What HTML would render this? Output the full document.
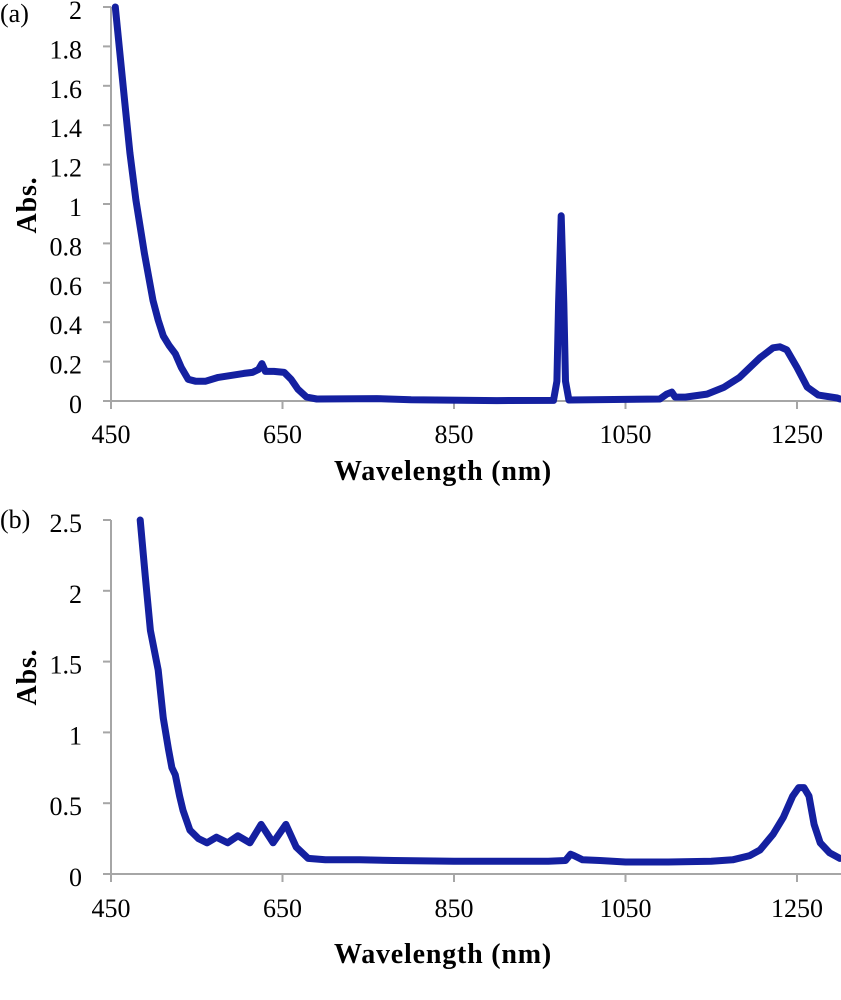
<!DOCTYPE html>
<html><head><meta charset="utf-8"><style>
html,body{margin:0;padding:0;background:#fff;}
svg{display:block;}
text{font-family:"Liberation Serif",serif;}
.t{font-size:26px;fill:#000;}
.b{font-size:28px;font-weight:bold;fill:#000;letter-spacing:0.8px;}
</style></head><body>
<svg id="s" width="841" height="1000" viewBox="0 0 841 1000" xmlns="http://www.w3.org/2000/svg">
<g stroke="#a6a6a6" stroke-width="2" fill="none">
<line x1="111" y1="7" x2="111" y2="401"/>
<line x1="111" y1="401" x2="841" y2="401"/>
<line x1="111" y1="520" x2="111" y2="874"/>
<line x1="111" y1="874" x2="841" y2="874"/>
</g>
<g id="ticks" stroke="#a6a6a6" stroke-width="2"></g>
<g id="labels"></g>
<text class="t" x="0" y="22">(a)</text>
<text class="t" x="0" y="528">(b)</text>
<text class="b" x="36" y="205" transform="rotate(-90 36 205)" text-anchor="middle">Abs.</text>
<text class="b" x="36" y="677" transform="rotate(-90 36 677)" text-anchor="middle">Abs.</text>
<text class="b" x="443" y="480" text-anchor="middle">Wavelength (nm)</text>
<text class="b" x="443" y="963" text-anchor="middle">Wavelength (nm)</text>
<path id="pa" fill="none" stroke="#1420a0" stroke-width="7" stroke-linejoin="round" stroke-linecap="round"/>
<path id="pb" fill="none" stroke="#1420a0" stroke-width="7" stroke-linejoin="round" stroke-linecap="round"/>
</svg>
<script>
var NS="http://www.w3.org/2000/svg";
function X(nm){return 111+(nm-450)*0.8575;}
function el(tag,attrs,txt,parent){var e=document.createElementNS(NS,tag);for(var k in attrs)e.setAttribute(k,attrs[k]);if(txt!=null)e.textContent=txt;document.getElementById(parent).appendChild(e);}
[450,650,850,1050,1250].forEach(function(v){
 [[401,443],[874,917]].forEach(function(p){
  el('line',{x1:X(v),y1:p[0],x2:X(v),y2:p[0]+8},null,'ticks');
  el('text',{x:X(v),y:p[1],'text-anchor':'middle','class':'t'},String(v),'labels');
 });
});
for(var i=0;i<=10;i++){var v=i*0.2,y=401-v*197;
 el('line',{x1:103,y1:y,x2:111,y2:y},null,'ticks');
 el('text',{x:82,y:y+12,'text-anchor':'end','class':'t'},(Math.round(v*10)/10).toString(),'labels');}
for(var i=0;i<=5;i++){var v=i*0.5,y=874-v*141.6;
 el('line',{x1:103,y1:y,x2:111,y2:y},null,'ticks');
 el('text',{x:82,y:y+12,'text-anchor':'end','class':'t'},(Math.round(v*10)/10).toString(),'labels');}
var A=[[455,2.0],[460,1.78],[466,1.52],[472,1.26],[479,1.02],[489,0.75],[499,0.51],[505,0.41],[511,0.33],[518,0.28],[525,0.24],[532,0.17],[540,0.11],[549,0.1],[560,0.1],[575,0.12],[590,0.13],[605,0.14],[615,0.145],[622,0.16],[626,0.19],[630,0.15],[640,0.15],[652,0.145],[660,0.11],[668,0.06],[678,0.02],[690,0.01],[760,0.012],[800,0.006],[900,0.002],[966,0.003],[970,0.1],[972,0.5],[975,0.94],[978,0.5],[980,0.1],[984,0.005],[1090,0.01],[1098,0.035],[1104,0.045],[1108,0.02],[1120,0.02],[1145,0.035],[1165,0.07],[1183,0.12],[1207,0.22],[1222,0.27],[1230,0.275],[1238,0.26],[1250,0.17],[1262,0.07],[1275,0.03],[1297,0.015],[1300,0.01]];
var B=[[484,2.5],[490,2.1],[496,1.72],[505,1.44],[511,1.1],[517,0.88],[521,0.75],[525,0.7],[530,0.55],[534,0.45],[542,0.31],[552,0.25],[562,0.22],[573,0.26],[586,0.22],[598,0.27],[612,0.22],[625,0.35],[639,0.22],[654,0.35],[666,0.19],[680,0.11],[700,0.1],[740,0.1],[780,0.095],[850,0.09],[960,0.09],[980,0.095],[986,0.14],[990,0.13],[1000,0.1],[1020,0.095],[1050,0.085],[1100,0.085],[1150,0.09],[1175,0.1],[1195,0.13],[1207,0.17],[1222,0.28],[1234,0.4],[1245,0.55],[1252,0.61],[1258,0.61],[1264,0.55],[1270,0.35],[1277,0.22],[1288,0.15],[1300,0.11]];
function path(d,y0,s){return d.map(function(p,i){return (i?'L':'M')+X(p[0]).toFixed(1)+' '+(y0-p[1]*s).toFixed(1);}).join(' ');}
document.getElementById('pa').setAttribute('d',path(A,401,197));
document.getElementById('pb').setAttribute('d',path(B,874,141.6));
</script>
</body></html>
